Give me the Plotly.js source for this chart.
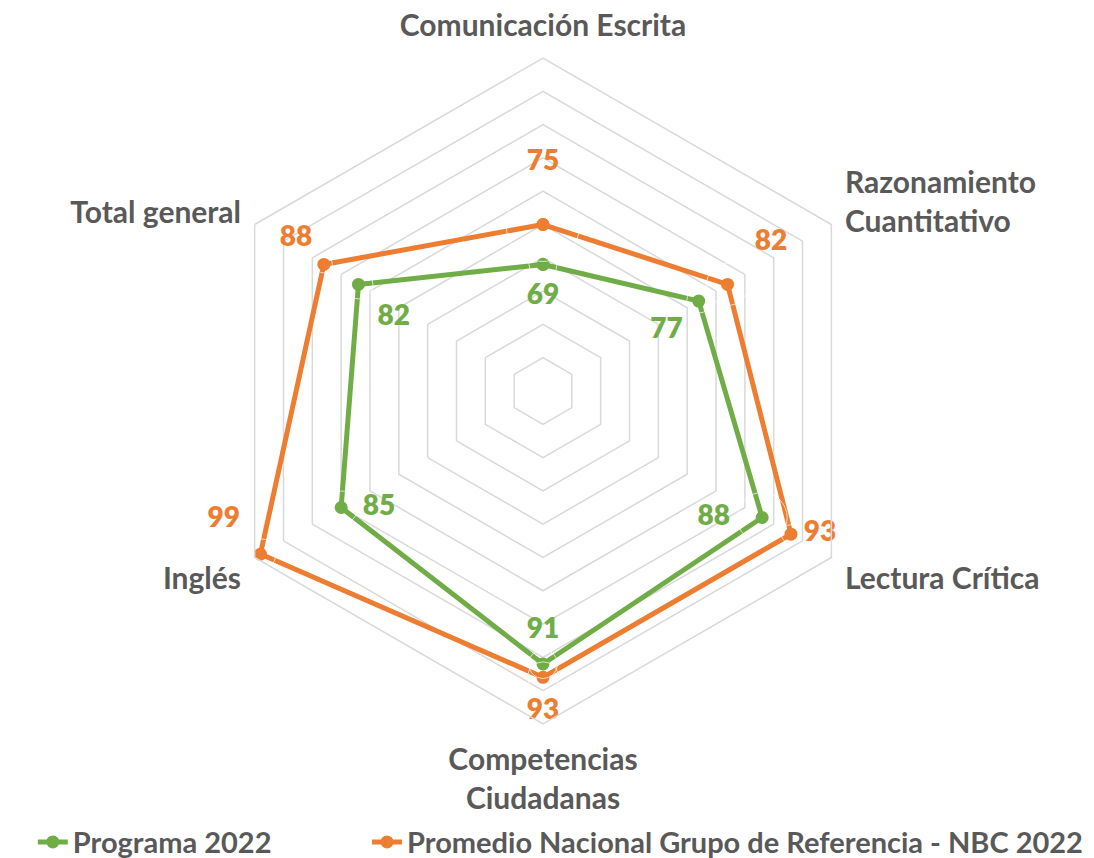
<!DOCTYPE html>
<html>
<head>
<meta charset="utf-8">
<script src="https://cdn.plot.ly/plotly-3.0.1.min.js"></script>
<style>html,body{margin:0;padding:0;background:#fff;}#chart{width:1094px;height:858px;}</style>
</head>
<body>
<div id="chart"></div>
<script>
const categories = ["Comunicación Escrita", "Razonamiento Cuantitativo", "Lectura Crítica", "Competencias Ciudadanas", "Inglés", "Total general"];
const categoryLabels = ["Comunicación Escrita", "Razonamiento<br>Cuantitativo", "Lectura Crítica", "Competencias<br>Ciudadanas", "Inglés", "Total general"];
const programa2022 = [69, 77, 88, 91, 85, 82];
const promedioNBC2022 = [75, 82, 93, 93, 99, 88];
const seriesNames = ["Programa 2022", "Promedio Nacional Grupo de Referencia - NBC 2022"];

const GREEN = "#70AD47", ORANGE = "#ED7D31", TEXT = "#595959";
const FONT = "Lato, 'Open Sans', sans-serif";
const closeLoop = a => a.concat([a[0]]);

const lineTrace = (vals, name, color, legendId) => ({
  type: "scatterpolar", mode: "lines+markers", name: name, legend: legendId,
  r: closeLoop(vals), theta: closeLoop(categories),
  line: {color: color, width: 5},
  marker: {color: color, size: 13},
  hoverinfo: "skip", cliponaxis: false
});
const labelTrace = (vals, color, positions, sizes) => ({
  type: "scatterpolar", mode: "markers+text", showlegend: false,
  r: vals, theta: categories,
  text: vals.map(String), textposition: positions,
  textfont: {family: FONT, size: 28, color: color, weight: 800},
  marker: {size: sizes, color: "rgba(0,0,0,0)"},
  hoverinfo: "skip", cliponaxis: false
});

const data = [
  lineTrace(programa2022, seriesNames[0], GREEN, "legend"),
  lineTrace(promedioNBC2022, seriesNames[1], ORANGE, "legend2"),
  labelTrace(programa2022, GREEN,
    ["bottom center", "bottom left", "middle left", "top center", "middle right", "bottom right"],
    [28, 24, 50, 29, 33, 29]),
  labelTrace(promedioNBC2022, ORANGE,
    ["top center", "top right", "middle right", "bottom center", "top left", "top left"],
    [74, 42, 19, 31, 31, 17])
];

const legendStyle = x => ({
  orientation: "h", x: x, xanchor: "left", y: 0.0186, yanchor: "middle",
  font: {family: FONT, size: 29, color: TEXT, weight: 700},
  bgcolor: "rgba(0,0,0,0)", itemwidth: 30
});

const layout = {
  width: 1094, height: 858,
  margin: {l: 0, r: 0, t: 0, b: 0, autoexpand: false},
  paper_bgcolor: "#ffffff",
  font: {family: FONT, color: TEXT},
  showlegend: true,
  legend: legendStyle(0.030),
  legend2: legendStyle(0.3355),
  polar: {
    domain: {x: [0.192, 0.8007], y: [0.1562, 0.9324]},
    gridshape: "linear",
    bgcolor: "rgba(0,0,0,0)",
    radialaxis: {
      range: [50, 100], dtick: 5, tick0: 50,
      showticklabels: false, ticks: "", showline: false,
      gridcolor: "#D9D9D9", gridwidth: 1.5
    },
    angularaxis: {
      rotation: 90, direction: "clockwise",
      tickmode: "array", tickvals: categories, ticktext: categoryLabels,
      showgrid: false, ticks: "outside", ticklen: 9, tickcolor: "rgba(0,0,0,0)",
      showline: true, linecolor: "#D9D9D9", linewidth: 1.5,
      tickfont: {family: FONT, size: 30, color: TEXT, weight: 700}
    }
  }
};

Plotly.newPlot("chart", data, layout, {displayModeBar: false, staticPlot: true});
</script>
</body>
</html>
